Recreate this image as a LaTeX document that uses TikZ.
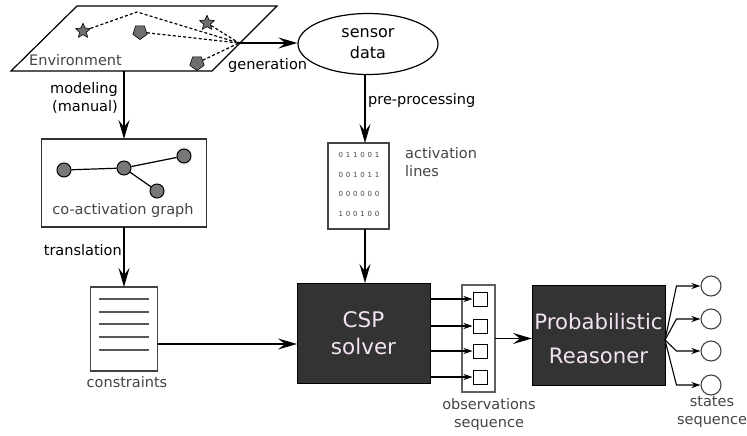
\documentclass[tikz,border=0pt]{standalone}
\usepackage{fontspec}
\setmainfont{DejaVu Sans}
\newfontfamily\digitfont{DejaVu Sans}[LetterSpace=40]
\usetikzlibrary{arrows.meta,shapes.geometric}
\definecolor{txtgray}{RGB}{68,68,68}
\definecolor{boxdark}{RGB}{51,51,51}
\definecolor{boxtext}{RGB}{242,226,242}
\definecolor{shapegray}{RGB}{110,110,110}
\definecolor{nodegray}{RGB}{120,120,120}
\begin{document}
\begin{tikzpicture}[x=1pt,y=-1pt,
  arr/.style={-{Stealth[length=19pt,width=11pt,inset=7pt]}, line width=1.4pt},
  sarr/.style={-{Stealth[length=9pt,width=6pt,inset=3pt]}, line width=1.1pt},
  lbl/.style={font=\fontsize{14.5}{18}\selectfont, text=black, inner sep=0},
  captxt/.style={lbl, text=txtgray},
  darkbox/.style={draw=black, fill=boxdark, line width=1pt, inner sep=0, outer sep=0},
  boxtxt/.style={text=boxtext, font=\fontsize{21.5}{27}\selectfont, align=center, inner sep=0},
  whitebox/.style={draw=txtgray, line width=1.2pt, fill=white, inner sep=0, outer sep=0},
  starshape/.style={star, star points=5, star point ratio=2.1, minimum size=15.5pt, inner sep=0, fill=shapegray, draw=black, line width=0.6pt},
  pentshape/.style={regular polygon, regular polygon sides=5, shape border rotate=180, minimum size=15pt, inner sep=0, fill=shapegray, draw=black, line width=0.6pt},
  dotline/.style={line width=1.2pt, dash pattern=on 3pt off 2.2pt},
  gnode/.style={circle, fill=nodegray, draw=black, line width=1pt, minimum size=14pt, inner sep=0},
  sqbox/.style={draw=black, fill=white, line width=1pt, minimum size=14pt, inner sep=0},
  stc/.style={circle, draw=txtgray, fill=white, line width=1.1pt, minimum size=20pt, inner sep=0},
  cline/.style={draw=txtgray!90, line width=1.1pt},
  digitstxt/.style={font=\digitfont\fontsize{7}{8}\selectfont, text=txtgray, inner sep=0, anchor=base}
]
\useasboundingbox (0,0) rectangle (747,436);

% Environment
\coordinate (p1) at (11,71);
\coordinate (p2) at (212,71);
\coordinate (p3) at (277,6);
\coordinate (p4) at (77,6);
\draw[line width=1.2pt, fill=white] (p1) -- (p2) -- (p3) -- (p4) -- cycle;
\coordinate (envB) at (124,71);
\coordinate (envC) at (239,43);
\coordinate (peak) at (137,12);
\node[starshape] (s1) at (83,31) {};
\node[starshape] (s2) at (207,23) {};
\node[pentshape] (g1) at (140,32) {};
\node[pentshape] (g2) at (197,63) {};
\draw[dotline] (s1) -- (peak) -- (envC);
\draw[dotline] (g1) -- (envC);
\draw[dotline] (s2) -- (envC);
\draw[dotline] (g2) -- (envC);
\node[captxt, anchor=base west] (envtxt) at (29,66) {Environment};

% sensor data
\node[ellipse, draw, line width=1.2pt, fill=white, minimum width=140pt, minimum height=61pt, inner sep=0,
      font=\fontsize{16}{21}\selectfont, align=center] (sensor) at (368,44) {sensor\\data};
\draw[arr] (envC) -- (envC -| sensor.west);
\node[lbl, anchor=base west] (gen) at (228,70) {generation};

% activation lines
\coordinate (colx) at (365,0);
\node[whitebox, minimum width=61pt, minimum height=86pt] (act) at (358.5,186) {};
\draw[arr] (colx |- sensor.south) -- (colx |- act.north);
\node[lbl, anchor=base west] (pre) at (368,104) {pre-processing};
\node[digitstxt] (d1) at (359,157) {011001};
\node[digitstxt] (d2) at (359,177) {001011};
\node[digitstxt] (d3) at (359,196) {000000};
\node[digitstxt] (d4) at (359,216) {100100};
\node[captxt, anchor=west, align=left] (actlbl) at (405,162.5) {activation\\lines};

% co-activation graph
\node[whitebox, draw=black!80, minimum width=165pt, minimum height=88pt] (coact) at (124,183) {};
\draw[arr] (envB) -- (envB |- coact.north);
\node[lbl, anchor=east, align=right] (model) at (118,97.5) {modeling\\(manual)};
\node[gnode] (n1) at (64,170) {};
\node[gnode] (n2) at (124,168) {};
\node[gnode] (n3) at (184,156) {};
\node[gnode] (n4) at (157,191) {};
\draw[line width=1.2pt] (n1) -- (n2) (n2) -- (n3) (n2) -- (n4);
\node[captxt, anchor=base] (coactlbl) at (123,214) {co-activation graph};

% constraints
\node[whitebox, minimum width=67pt, minimum height=84pt] (cons) at (124,329) {};
\draw[arr] (coact.south) -- (cons.north);
\node[lbl, anchor=base east] (trans) at (122,255) {translation};
\foreach \yy in {299,312,324,337,350} \draw[cline] (99,\yy) -- (149,\yy);
\node[captxt, anchor=base] (conslbl) at (127,387) {constraints};

% CSP solver
\node[darkbox, minimum width=133pt, minimum height=100pt] (csp) at (363.5,333) {};
\node[boxtxt] (csptxt) at (363.5,333) {CSP\\solver};
\draw[arr] (colx |- act.south) -- (colx |- csp.north);
\draw[arr] ([yshift=-15pt]cons.east) -- ([yshift=-15pt]cons.east -| csp.west);

% observations
\node[whitebox, draw=txtgray!85, minimum width=33pt, minimum height=107pt] (obs) at (478.5,338.5) {};
\node[sqbox] (q1) at (480,299) {};
\node[sqbox] (q2) at (480,326) {};
\node[sqbox] (q3) at (480,351) {};
\node[sqbox] (q4) at (480,377) {};
\foreach \q in {q1,q2,q3,q4} \draw[sarr] (csp.east |- \q) -- (\q.west);
\node[captxt, align=center] (obslbl) at (489,414) {observations\\sequence};

% Probabilistic reasoner
\node[darkbox, minimum width=133pt, minimum height=100pt] (prob) at (598.5,335) {};
\node[boxtxt, font=\fontsize{21.2}{34}\selectfont] (probtxt) at (598.5,339) {Probabilistic\\Reasoner};
\draw[arr] (obs.east) -- (obs.east -| prob.west);

% states
\node[stc] (st1) at (711,286) {};
\node[stc] (st2) at (711,319) {};
\node[stc] (st3) at (711,351) {};
\node[stc] (st4) at (711,385) {};
\coordinate (pb) at ([yshift=-5pt]prob.east);
\foreach \s in {st1,st2,st3,st4} \draw[sarr] (pb) -- ([xshift=-24pt]\s.west) -- (\s.west);
\node[captxt, align=center] (stlbl) at (712,412) {states\\sequence};
\end{tikzpicture}
\end{document}
